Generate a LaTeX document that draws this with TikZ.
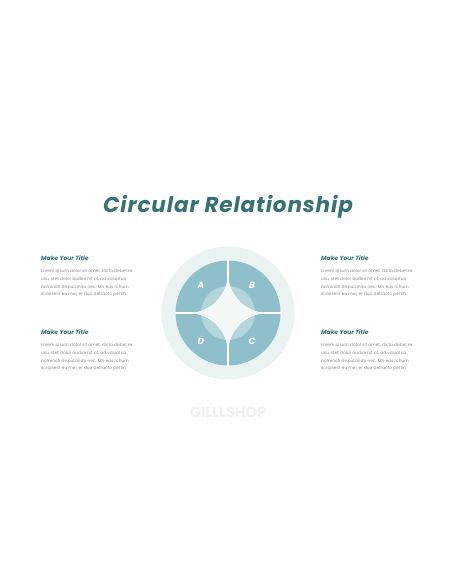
\documentclass[tikz,border=0pt]{standalone}
\usepackage{fontspec}
\setmainfont{Poppins}
\newfontfamily\titlefont[LetterSpace=4]{Poppins}
\definecolor{teal1}{HTML}{367176}
\definecolor{quad}{HTML}{8EBFCB}
\definecolor{outerc}{HTML}{EBF3F2}
\definecolor{starc}{HTML}{F3F8F7}
\definecolor{bodyc}{HTML}{8C8C8C}
\definecolor{wmark}{HTML}{F1F1F1}
\tikzset{
  bigtitle/.style={font=\titlefont\fontsize{21.5}{23}\selectfont\bfseries\itshape, text=teal1, inner sep=0pt},
  smalltitle/.style={font=\fontsize{6}{7}\selectfont\bfseries\itshape, text=teal1, inner sep=0pt, anchor=west},
  bodytext/.style={font=\fontsize{4.3}{7.9}\selectfont, text=bodyc, inner sep=0pt, anchor=north west, align=left},
  letter/.style={font=\fontsize{9}{10}\selectfont\bfseries\itshape, text=white, inner sep=0pt},
  quadrant/.style={fill=quad, draw=none},
}
\begin{document}
\begin{tikzpicture}[x=1pt,y=-1pt]
\fill[white] (0,0) rectangle (456,586);
\useasboundingbox (0,0) rectangle (456,586);

\node[bigtitle] (title) at (228,206.5) {Circular Relationship};

% diagram
\begin{scope}[shift={(228,313)}, y=1pt]
  \fill[outerc] (0,0) circle[radius=66.5];
  \path[quadrant] (0,52.5) arc[start angle=90,end angle=180,radius=52.5] -- (-40,0) arc[start angle=270,end angle=360,radius=40] -- cycle;
  \path[quadrant] (52.5,0) arc[start angle=0,end angle=90,radius=52.5] -- (0,40) arc[start angle=180,end angle=270,radius=40] -- cycle;
  \path[quadrant] (0,-52.5) arc[start angle=270,end angle=360,radius=52.5] -- (40,0) arc[start angle=90,end angle=180,radius=40] -- cycle;
  \path[quadrant] (-52.5,0) arc[start angle=180,end angle=270,radius=52.5] -- (0,-40) arc[start angle=0,end angle=90,radius=40] -- cycle;
  \draw[white, line width=2.2pt] (-53.5,0) -- (53.5,0);
  \draw[white, line width=2.2pt] (0,-53.5) -- (0,53.5);
  \fill[white, opacity=0.35] (0,0) circle[radius=27];
  \fill[starc] (-40,0) arc[start angle=270,end angle=360,radius=40] arc[start angle=180,end angle=270,radius=40] arc[start angle=90,end angle=180,radius=40] arc[start angle=0,end angle=90,radius=40] -- cycle;
  \node[letter] (la) at (-27,28) {A};
  \node[letter] (lb) at (24,28) {B};
  \node[letter] (lc) at (24,-28.5) {C};
  \node[letter] (ld) at (-27,-28.5) {D};
\end{scope}

% left column
\node[smalltitle] (t1) at (41,258) {Make Your Title};
\node[bodytext] (b1) at (41,268.8) {Lorem ipsum dolor sit amet, dicta debet ex\\usu, stet dolor audire hit at, ad voluptua\\nominati disputando nec. Mn eas rchum\\scripserit eu mei, er duo detracto pertin};
\node[smalltitle] (t3) at (41,332) {Make Your Title};
\node[bodytext] (b3) at (41,342.8) {Lorem ipsum dolor sit amet, dicta debet ex\\usu, stet dolor audire hit at, ad voluptua\\nominati disputando nec. Mn eas rchum\\scripserit eu mei, er duo detracto pertin};

% right column
\node[smalltitle] (t2) at (321,258) {Make Your Title};
\node[bodytext] (b2) at (321,268.8) {Lorem ipsum dolor sit amet, dicta debet ex\\usu, stet dolor audire hit at, ad voluptua\\nominati disputando nec. Mn eas rchum\\scripserit eu mei, er duo detracto pertin};
\node[smalltitle] (t4) at (321,332) {Make Your Title};
\node[bodytext] (b4) at (321,342.8) {Lorem ipsum dolor sit amet, dicta debet ex\\usu, stet dolor audire hit at, ad voluptua\\nominati disputando nec. Mn eas rchum\\scripserit eu mei, er duo detracto pertin};

\node[font=\fontsize{14.5}{16}\selectfont\bfseries, text=wmark, inner sep=0pt] (wm) at (228,412) {GILLLSHOP};
\end{tikzpicture}
\end{document}
